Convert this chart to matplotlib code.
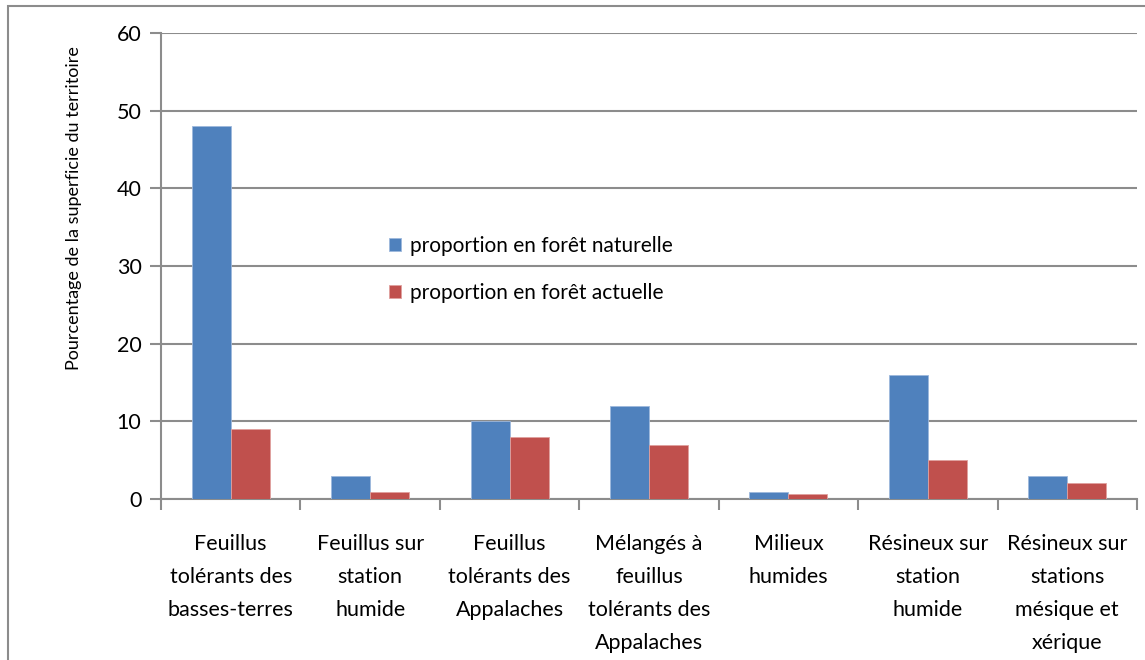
import matplotlib.pyplot as plt
import numpy as np
from matplotlib.patches import Rectangle

plt.rcParams['font.family'] = ['Lato', 'DejaVu Sans']

categories = ['Feuillus\ntolérants des\nbasses-terres',
              'Feuillus sur\nstation\nhumide',
              'Feuillus\ntolérants des\nAppalaches',
              'Mélangés à\nfeuillus\ntolérants des\nAppalaches',
              'Milieux\nhumides',
              'Résineux sur\nstation\nhumide',
              'Résineux sur\nstations\nmésique et\nxérique']
naturelle = [48, 3, 10, 12, 0.9, 16, 3]
actuelle = [9, 0.9, 8, 7, 0.7, 5, 2]
series_names = ['proportion en forêt naturelle', 'proportion en forêt actuelle']

fig = plt.figure(figsize=(11.45, 6.6), dpi=100)
ax = fig.add_axes([0.1406, 0.2439, 0.993 - 0.1406, 0.95 - 0.2439])

# outer chart frame
fig.patches.append(Rectangle((8 / 1145, -0.1), 1.2, 1 - 6 / 660 + 0.1, transform=fig.transFigure,
                             fill=False, edgecolor='#8c8c8c', linewidth=1.5))

x = np.arange(len(categories))
w = 0.28
ax.bar(x - w / 2, naturelle, w, color='#4F81BD', edgecolor='#9db8dc', linewidth=0.6,
       label=series_names[0], zorder=3)
ax.bar(x + w / 2, actuelle, w, color='#C0504D', edgecolor='#e0a09e', linewidth=0.6,
       label=series_names[1], zorder=3)

ax.set_xlim(-0.5, len(categories) - 0.5)
ax.set_ylim(0, 60)
ax.set_yticks(range(0, 61, 10))
ax.yaxis.grid(True, color='#8c8c8c', linewidth=1.5, zorder=0)
ax.set_axisbelow(True)

ax.set_xticks(np.arange(-0.5, len(categories), 1))
ax.set_xticklabels([])
ax.set_xticks(x, minor=True)
ax.set_xticklabels(categories, minor=True, fontsize=15.5, linespacing=1.82, va='top')
ax.tick_params(axis='x', which='minor', length=0, pad=25)
ax.tick_params(axis='x', which='major', length=8, width=1.5, color='#8c8c8c', direction='out')
ax.tick_params(axis='y', length=8, width=1.5, color='#8c8c8c', labelsize=15.5, pad=6)

for s in ['top', 'right']:
    ax.spines[s].set_visible(False)
for s in ['left', 'bottom']:
    ax.spines[s].set_color('#8c8c8c')
    ax.spines[s].set_linewidth(1.5)

ax.set_ylabel('Pourcentage de la superficie du territoire', fontsize=13)
ax.yaxis.set_label_coords(-0.081, 0.624)

ax.legend(loc='center left', bbox_to_anchor=(0.214, 0.493), frameon=False, fontsize=15,
          handlelength=0.6, handleheight=0.6, handletextpad=0.45, labelspacing=1.3)

fig.savefig('out.png', dpi=100)
